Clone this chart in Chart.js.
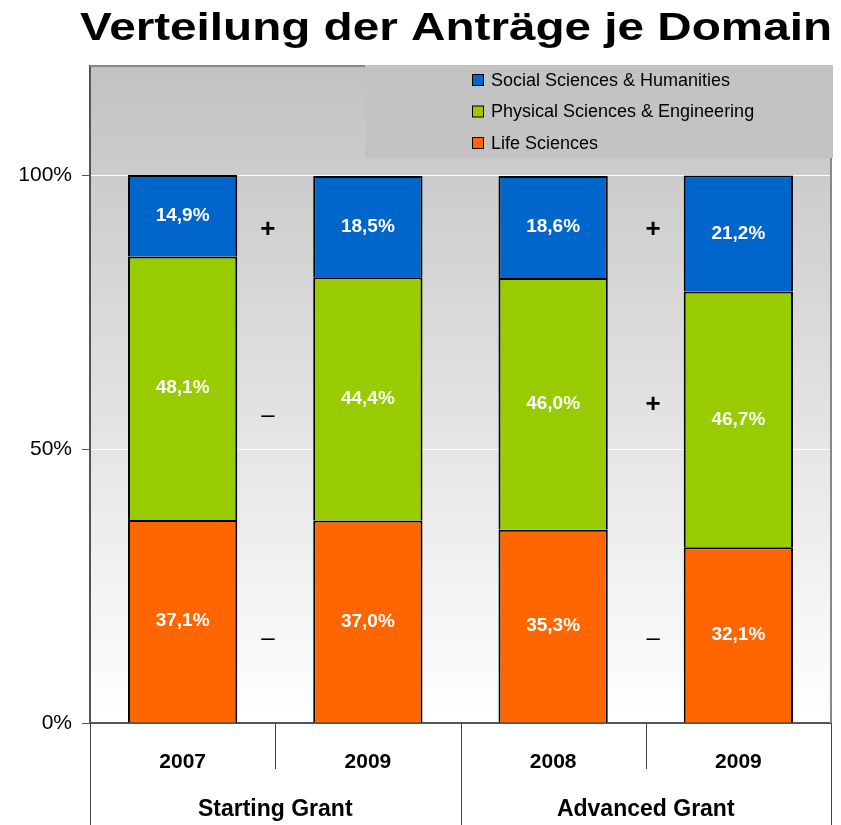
<!DOCTYPE html>
<html><head><meta charset="utf-8">
<script src="https://cdn.jsdelivr.net/npm/chart.js@4"></script>
<style>html,body{margin:0;padding:0;background:#fff}</style>
</head><body>
<canvas id="c" width="841" height="825"></canvas>
<script>
const titleText = 'Verteilung der Anträge je Domain';
const categories = ['2007', '2009', '2008', '2009'];
const groups = ['Starting Grant', 'Advanced Grant'];
const lifeSciences = [37.1, 37.0, 35.3, 32.1];
const physicalSciences = [48.1, 44.4, 46.0, 46.7];
const socialSciences = [14.9, 18.5, 18.6, 21.2];
const yTickValues = [0, 50, 100];
const markerX = [0.46, 0.46, 0.46, 2.54, 2.54, 2.54];
const markerY = [90.1, 56.1, 15.4, 90.1, 58.1, 15.4];
const markerSign = ['+', '–', '–', '+', '+', '–'];

const FONT = 'Liberation Sans, Arial, sans-serif';

const bgPlugin = {
  id: 'bg',
  beforeDraw(chart) {
    const {ctx, chartArea: a} = chart;
    const g = ctx.createLinearGradient(0, a.top, 0, a.bottom);
    g.addColorStop(0, '#c2c2c2');
    g.addColorStop(1, '#ffffff');
    ctx.save();
    ctx.fillStyle = g;
    ctx.fillRect(a.left, a.top, a.right - a.left, a.bottom - a.top);
    ctx.restore();
  }
};

const labelPlugin = {
  id: 'labels',
  afterDatasetsDraw(chart) {
    const ctx = chart.ctx;
    ctx.save();
    ctx.font = 'bold 19px ' + FONT;
    ctx.fillStyle = '#fff';
    ctx.textAlign = 'center';
    ctx.textBaseline = 'middle';
    chart.data.datasets.forEach((ds, di) => {
      chart.getDatasetMeta(di).data.forEach((el, i) => {
        const p = el.getCenterPoint();
        ctx.fillText(ds.data[i].toFixed(1).replace('.', ',') + '%', p.x, p.y);
      });
    });
    const xs = chart.scales.x, ys = chart.scales.y;
    ctx.fillStyle = '#000';
    markerSign.forEach((s, i) => {
      ctx.font = (s === '+' ? 'bold 26px ' : '24px ') + FONT;
      ctx.fillText(s, xs.getPixelForValue(markerX[i]), ys.getPixelForValue(markerY[i]));
    });
    ctx.restore();
  }
};

const decoPlugin = {
  id: 'deco',
  afterDraw(chart) {
    const {ctx, chartArea: a} = chart;
    const xs = chart.scales.x;
    const H = chart.height;
    ctx.save();
    ctx.strokeStyle = '#888';
    ctx.lineWidth = 2;
    ctx.beginPath();
    ctx.moveTo(a.left, a.top); ctx.lineTo(a.right, a.top);
    ctx.moveTo(a.right, a.top); ctx.lineTo(a.right, a.bottom);
    ctx.stroke();
    // legend box
    const lx = 365, ly = a.top - 1, lw = a.right + 2 - 365, lh = 93;
    ctx.fillStyle = '#c3c3c3';
    ctx.fillRect(lx, ly, lw, lh);
    const items = chart.data.datasets.slice().reverse();
    items.forEach((ds, i) => {
      const cy = 80 + i * 31.5;
      ctx.fillStyle = ds.backgroundColor;
      ctx.fillRect(472.5, cy - 5.5, 11, 11);
      ctx.strokeStyle = '#000';
      ctx.lineWidth = 1;
      ctx.strokeRect(472.5, cy - 5.5, 11, 11);
      ctx.fillStyle = '#000';
      ctx.font = '18px ' + FONT;
      ctx.textAlign = 'left';
      ctx.textBaseline = 'middle';
      ctx.fillText(ds.label, 491, cy + 1);
    });
    // category separators below axis
    ctx.strokeStyle = '#444';
    ctx.lineWidth = 1;
    const n = categories.length;
    const step = (xs.right - xs.left) / n;
    ctx.beginPath();
    for (let i = 0; i <= n; i++) {
      const x = Math.round(xs.left + i * step) + 0.5;
      const yEnd = (i % 2 === 0) ? H : a.bottom + 46;
      ctx.moveTo(x, a.bottom); ctx.lineTo(x, yEnd);
    }
    ctx.stroke();
    ctx.fillStyle = '#000';
    ctx.textAlign = 'center';
    ctx.textBaseline = 'middle';
    ctx.font = 'bold 21px ' + FONT;
    categories.forEach((c, i) => {
      ctx.fillText(c, xs.getPixelForValue(i), a.bottom + 39);
    });
    ctx.font = 'bold 23px ' + FONT;
    groups.forEach((g, gi) => {
      ctx.fillText(g, xs.getPixelForValue(gi * 2 + 0.5), a.bottom + 87);
    });
    // title
    ctx.font = 'bold 38px ' + FONT;
    const w = ctx.measureText(titleText).width;
    const sx = 752 / w;
    ctx.translate(456, 39.5);
    ctx.scale(sx, 1);
    ctx.textAlign = 'center';
    ctx.textBaseline = 'alphabetic';
    ctx.fillText(titleText, 0, 0);
    ctx.restore();
  }
};

const common = {borderColor: '#000', borderWidth: {top: 2, left: 2, right: 2, bottom: 0}, borderSkipped: false, categoryPercentage: 1, barPercentage: 0.59};

new Chart(document.getElementById('c'), {
  type: 'bar',
  data: {
    labels: categories,
    datasets: [
      Object.assign({label: 'Life Sciences', data: lifeSciences, backgroundColor: '#FF6600'}, common),
      Object.assign({label: 'Physical Sciences & Engineering', data: physicalSciences, backgroundColor: '#99CC00'}, common),
      Object.assign({label: 'Social Sciences & Humanities', data: socialSciences, backgroundColor: '#0066CC'}, common)
    ]
  },
  options: {
    responsive: false,
    animation: false,
    devicePixelRatio: 1,
    layout: {padding: {top: 66, right: 10, bottom: 94, left: 0}},
    plugins: {legend: {display: false}, tooltip: {enabled: false}, title: {display: false}},
    scales: {
      x: {
        stacked: true,
        grid: {display: false},
        border: {display: true, color: '#555', width: 2},
        ticks: {display: false}
      },
      y: {
        stacked: true,
        min: 0, max: 120,
        afterBuildTicks: s => { s.ticks = yTickValues.map(v => ({value: v})); },
        afterFit: s => { s.width = 90; },
        grid: {color: '#ffffff', lineWidth: 1, tickLength: 8, tickColor: '#555', drawTicks: true},
        border: {color: '#555', width: 2},
        ticks: {font: {family: FONT, size: 21}, color: '#000', padding: 10, callback: v => v + '%'}
      }
    }
  },
  plugins: [bgPlugin, labelPlugin, decoPlugin]
});
</script>
</body></html>
